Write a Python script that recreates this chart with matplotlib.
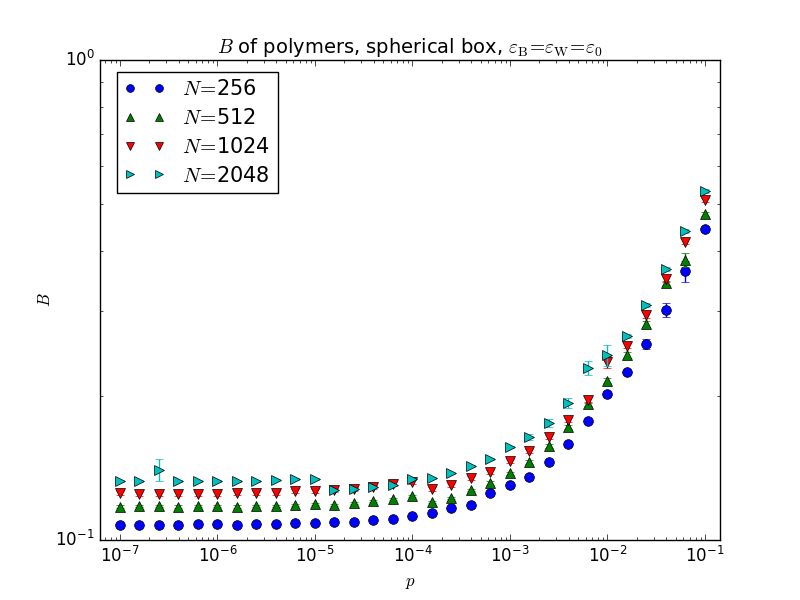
import matplotlib
matplotlib.use("Agg")
import matplotlib.pyplot as plt
from matplotlib.ticker import NullFormatter

plt.style.use("classic")

# %% data
p = [1.0e-7, 1.585e-7, 2.512e-7, 3.981e-7, 6.310e-7,
     1.0e-6, 1.585e-6, 2.512e-6, 3.981e-6, 6.310e-6,
     1.0e-5, 1.585e-5, 2.512e-5, 3.981e-5, 6.310e-5,
     1.0e-4, 1.585e-4, 2.512e-4, 3.981e-4, 6.310e-4,
     1.0e-3, 1.585e-3, 2.512e-3, 3.981e-3, 6.310e-3,
     1.0e-2, 1.585e-2, 2.512e-2, 3.981e-2, 6.310e-2,
     1.0e-1]

B_256 = [0.1075, 0.1075, 0.1075, 0.1075, 0.1080, 0.1080, 0.1075, 0.1080, 0.1080, 0.1085,
         0.1085, 0.1090, 0.1090, 0.1101, 0.1106, 0.1122, 0.1138, 0.1166, 0.1183, 0.1253,
         0.1302, 0.1353, 0.1454, 0.1585, 0.1769, 0.2015, 0.2239, 0.2561, 0.3014, 0.3635,
         0.4446]
err_256 = [0.0005, 0.0005, 0.0005, 0.0005, 0.0005, 0.0005, 0.0005, 0.0005, 0.0005, 0.0005,
           0.0005, 0.0005, 0.0005, 0.0005, 0.0005, 0.0005, 0.0005, 0.0006, 0.0006, 0.0008,
           0.0008, 0.0008, 0.0010, 0.0012, 0.0015, 0.0015, 0.0020, 0.0062, 0.0100, 0.0180,
           0.0040]

B_512 = [0.1172, 0.1177, 0.1177, 0.1172, 0.1177, 0.1177, 0.1172, 0.1177, 0.1177, 0.1183,
         0.1189, 0.1183, 0.1194, 0.1206, 0.1217, 0.1235, 0.1200, 0.1223, 0.1271, 0.1315,
         0.1379, 0.1454, 0.1570, 0.1719, 0.1920, 0.2145, 0.2429, 0.2818, 0.3431, 0.3831,
         0.4776]
err_512 = [0.0008, 0.0008, 0.0008, 0.0008, 0.0008, 0.0008, 0.0008, 0.0008, 0.0008, 0.0008,
           0.0008, 0.0008, 0.0008, 0.0008, 0.0008, 0.0008, 0.0008, 0.0008, 0.0008, 0.0010,
           0.0010, 0.0012, 0.0012, 0.0015, 0.0020, 0.0025, 0.0030, 0.0040, 0.0040, 0.0130,
           0.0050]

B_1024 = [0.1253, 0.1247, 0.1247, 0.1247, 0.1247, 0.1247, 0.1253, 0.1253, 0.1253, 0.1265,
          0.1265, 0.1271, 0.1277, 0.1289, 0.1308, 0.1321, 0.1277, 0.1302, 0.1346, 0.1386,
          0.1461, 0.1532, 0.1639, 0.1778, 0.1957, 0.2349, 0.2537, 0.2944, 0.3497, 0.4178,
          0.5109]
err_1024 = [0.0010, 0.0010, 0.0010, 0.0010, 0.0010, 0.0010, 0.0010, 0.0010, 0.0010, 0.0010,
            0.0010, 0.0010, 0.0010, 0.0010, 0.0010, 0.0010, 0.0010, 0.0010, 0.0012, 0.0012,
            0.0015, 0.0015, 0.0018, 0.0020, 0.0025, 0.0068, 0.0030, 0.0040, 0.0050, 0.0050,
            0.0060]

B_2048 = [0.1327, 0.1327, 0.1399, 0.1327, 0.1327, 0.1327, 0.1327, 0.1327, 0.1334, 0.1340,
          0.1340, 0.1271, 0.1277, 0.1289, 0.1302, 0.1340, 0.1346, 0.1379, 0.1426, 0.1475,
          0.1562, 0.1639, 0.1752, 0.1929, 0.2282, 0.2429, 0.2661, 0.3088, 0.3670, 0.4404,
          0.5334]
err_2048 = [0.0006, 0.0006, 0.0075, 0.0006, 0.0006, 0.0006, 0.0006, 0.0006, 0.0006, 0.0006,
            0.0006, 0.0006, 0.0006, 0.0006, 0.0006, 0.0006, 0.0006, 0.0006, 0.0008, 0.0008,
            0.0010, 0.0024, 0.0034, 0.0047, 0.0078, 0.0120, 0.0020, 0.0030, 0.0030, 0.0040,
            0.0040]

series = [
    (B_256, err_256, "b", "o", r"$N\!=\!$256"),
    (B_512, err_512, "g", "^", r"$N\!=\!$512"),
    (B_1024, err_1024, "r", "v", r"$N\!=\!$1024"),
    (B_2048, err_2048, "c", ">", r"$N\!=\!$2048"),
]

# %% plot
fig, ax = plt.subplots(figsize=(8, 6))

for B, err, col, mk, lab in series:
    ax.errorbar(p, B, yerr=err, fmt="none", ecolor=col, capsize=3, elinewidth=1)
    ax.plot(p, B, linestyle="none", marker=mk, color=col, mec="k", mew=0.5,
            markersize=7, label=lab)

ax.set_xscale("log")
ax.set_yscale("log")
ax.set_xlim(6.24e-8, 0.1426)
ax.set_ylim(0.1, 1.0)
ax.xaxis.set_minor_formatter(NullFormatter())
ax.yaxis.set_minor_formatter(NullFormatter())

ax.set_title(r"$B$ of polymers, spherical box, "
             r"$\varepsilon_\mathrm{B}\!=\!\varepsilon_\mathrm{W}\!=\!\varepsilon_0$",
             fontsize=14)
ax.set_xlabel(r"$p$")
ax.set_ylabel(r"$B$", labelpad=1)
ax.legend(loc="upper left", bbox_to_anchor=(0.027, 0.975), borderaxespad=0,
          numpoints=2, fontsize=15, markerscale=0.8, labelspacing=0.42,
          borderpad=0.35, handletextpad=0.8)

fig.savefig("out.png", dpi=100)
